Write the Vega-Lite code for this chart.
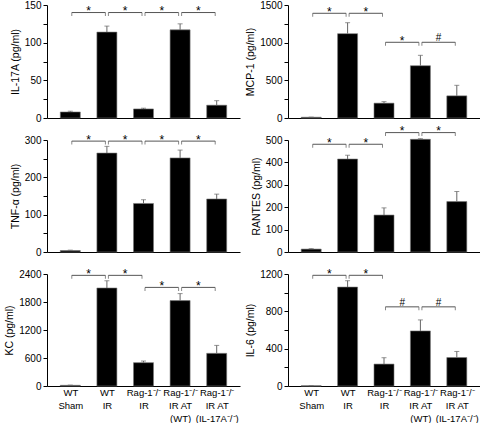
{
  "$schema": "https://vega.github.io/schema/vega-lite/v6.json",
  "padding": {"left": 4, "top": 0, "right": 0, "bottom": 0},
  "background": "white",
  "config": {
    "view": {"stroke": null},
    "axis": {"grid": false, "domainColor": "#000", "tickColor": "#000", "labelColor": "#000", "titleColor": "#000", "labelFont": "Liberation Sans", "titleFont": "Liberation Sans", "labelFontSize": 10, "titleFontSize": 10.5, "titleFontWeight": "normal", "tickSize": 4, "labelPadding": 2, "titlePadding": 4}
  },
  "datasets": {
    "bars": [
      {"panel": "IL17A", "g": 1, "value": 8, "hi": 9},
      {"panel": "IL17A", "g": 2, "value": 114, "hi": 122},
      {"panel": "IL17A", "g": 3, "value": 12, "hi": 13},
      {"panel": "IL17A", "g": 4, "value": 117, "hi": 125},
      {"panel": "IL17A", "g": 5, "value": 17, "hi": 23},
      {"panel": "MCP1", "g": 1, "value": 10, "hi": 12},
      {"panel": "MCP1", "g": 2, "value": 1120, "hi": 1265},
      {"panel": "MCP1", "g": 3, "value": 197, "hi": 217},
      {"panel": "MCP1", "g": 4, "value": 694, "hi": 832},
      {"panel": "MCP1", "g": 5, "value": 294, "hi": 434},
      {"panel": "TNF", "g": 1, "value": 4, "hi": 5},
      {"panel": "TNF", "g": 2, "value": 265, "hi": 283},
      {"panel": "TNF", "g": 3, "value": 130, "hi": 140},
      {"panel": "TNF", "g": 4, "value": 252, "hi": 273},
      {"panel": "TNF", "g": 5, "value": 142, "hi": 155},
      {"panel": "RANTES", "g": 1, "value": 13, "hi": 15},
      {"panel": "RANTES", "g": 2, "value": 415, "hi": 432},
      {"panel": "RANTES", "g": 3, "value": 165, "hi": 197},
      {"panel": "RANTES", "g": 4, "value": 503, "hi": 506},
      {"panel": "RANTES", "g": 5, "value": 225, "hi": 270},
      {"panel": "KC", "g": 1, "value": 15, "hi": 20},
      {"panel": "KC", "g": 2, "value": 2100, "hi": 2255},
      {"panel": "KC", "g": 3, "value": 500, "hi": 535},
      {"panel": "KC", "g": 4, "value": 1830, "hi": 1980},
      {"panel": "KC", "g": 5, "value": 700, "hi": 870},
      {"panel": "IL6", "g": 1, "value": 3, "hi": 3},
      {"panel": "IL6", "g": 2, "value": 1060, "hi": 1128},
      {"panel": "IL6", "g": 3, "value": 235, "hi": 303},
      {"panel": "IL6", "g": 4, "value": 590, "hi": 708},
      {"panel": "IL6", "g": 5, "value": 305, "hi": 370}
    ],
    "brackets": [
      {"panel": "IL17A", "x1": 1, "x2": 2, "xm": 1.5, "y": 140, "label": "*"},
      {"panel": "IL17A", "x1": 2, "x2": 3, "xm": 2.5, "y": 140, "label": "*"},
      {"panel": "IL17A", "x1": 3, "x2": 4, "xm": 3.5, "y": 140, "label": "*"},
      {"panel": "IL17A", "x1": 4, "x2": 5, "xm": 4.5, "y": 140, "label": "*"},
      {"panel": "MCP1", "x1": 1, "x2": 2, "xm": 1.5, "y": 1390, "label": "*"},
      {"panel": "MCP1", "x1": 2, "x2": 3, "xm": 2.5, "y": 1390, "label": "*"},
      {"panel": "MCP1", "x1": 3, "x2": 4, "xm": 3.5, "y": 1005, "label": "*"},
      {"panel": "MCP1", "x1": 4, "x2": 5, "xm": 4.5, "y": 1005, "label": "#"},
      {"panel": "TNF", "x1": 1, "x2": 2, "xm": 1.5, "y": 297, "label": "*"},
      {"panel": "TNF", "x1": 2, "x2": 3, "xm": 2.5, "y": 297, "label": "*"},
      {"panel": "TNF", "x1": 3, "x2": 4, "xm": 3.5, "y": 297, "label": "*"},
      {"panel": "TNF", "x1": 4, "x2": 5, "xm": 4.5, "y": 297, "label": "*"},
      {"panel": "RANTES", "x1": 1, "x2": 2, "xm": 1.5, "y": 481, "label": "*"},
      {"panel": "RANTES", "x1": 2, "x2": 3, "xm": 2.5, "y": 481, "label": "*"},
      {"panel": "RANTES", "x1": 3, "x2": 4, "xm": 3.5, "y": 533, "label": "*"},
      {"panel": "RANTES", "x1": 4, "x2": 5, "xm": 4.5, "y": 533, "label": "*"},
      {"panel": "KC", "x1": 1, "x2": 2, "xm": 1.5, "y": 2371, "label": "*"},
      {"panel": "KC", "x1": 2, "x2": 3, "xm": 2.5, "y": 2371, "label": "*"},
      {"panel": "KC", "x1": 3, "x2": 4, "xm": 3.5, "y": 2113, "label": "*"},
      {"panel": "KC", "x1": 4, "x2": 5, "xm": 4.5, "y": 2113, "label": "*"},
      {"panel": "IL6", "x1": 1, "x2": 2, "xm": 1.5, "y": 1186, "label": "*"},
      {"panel": "IL6", "x1": 2, "x2": 3, "xm": 2.5, "y": 1186, "label": "*"},
      {"panel": "IL6", "x1": 3, "x2": 4, "xm": 3.5, "y": 848, "label": "#"},
      {"panel": "IL6", "x1": 4, "x2": 5, "xm": 4.5, "y": 848, "label": "#"}
    ]
  },
  "columns": 2,
  "spacing": {"row": 22, "column": 48},
  "bounds": "flush",
  "concat": [
    {
      "width": 193, "height": 113,
      "layer": [
        {"data": {"name": "bars"}, "transform": [{"filter": "datum.panel === 'IL17A'"}],
         "mark": {"type": "bar", "size": 20, "color": "#000", "stroke": "#777", "strokeWidth": 0.6},
         "encoding": {
           "x": {"field": "g", "type": "quantitative", "scale": {"domain": [0.5, 5.5], "nice": false, "zero": false}, "axis": {"title": null, "labels": false, "ticks": false, "values": [1, 2, 3, 4, 5]}},
           "y": {"field": "value", "type": "quantitative", "scale": {"domain": [0, 150], "nice": false}, "axis": {"title": "IL-17A (pg/ml)", "labelOverlap": false, "values": [0, 25, 50, 75, 100, 125, 150], "labelExpr": "datum.value % 50 === 0 ? datum.label : ''"}}}},
        {"data": {"name": "bars"}, "transform": [{"filter": "datum.panel === 'IL17A'"}],
         "mark": {"type": "rule", "color": "#666", "strokeWidth": 1},
         "encoding": {"x": {"field": "g", "type": "quantitative"}, "y": {"field": "value", "type": "quantitative", "axis": {"title": "IL-17A (pg/ml)", "labelOverlap": false, "values": [0, 25, 50, 75, 100, 125, 150], "labelExpr": "datum.value % 50 === 0 ? datum.label : ''"}}, "y2": {"field": "hi"}}},
        {"data": {"name": "bars"}, "transform": [{"filter": "datum.panel === 'IL17A'"}],
         "mark": {"type": "tick", "orient": "horizontal", "size": 5, "thickness": 1, "color": "#666"},
         "encoding": {"x": {"field": "g", "type": "quantitative"}, "y": {"field": "hi", "type": "quantitative", "axis": {"title": "IL-17A (pg/ml)", "labelOverlap": false, "values": [0, 25, 50, 75, 100, 125, 150], "labelExpr": "datum.value % 50 === 0 ? datum.label : ''"}}}},
        {"data": {"name": "brackets"}, "transform": [{"filter": "datum.panel === 'IL17A'"}],
         "mark": {"type": "rule", "color": "#555", "strokeWidth": 1, "xOffset": 1.5, "x2Offset": -1.5},
         "encoding": {"x": {"field": "x1", "type": "quantitative"}, "x2": {"field": "x2"}, "y": {"field": "y", "type": "quantitative", "axis": {"title": "IL-17A (pg/ml)", "labelOverlap": false, "values": [0, 25, 50, 75, 100, 125, 150], "labelExpr": "datum.value % 50 === 0 ? datum.label : ''"}}}},
        {"data": {"name": "brackets"}, "transform": [{"filter": "datum.panel === 'IL17A'"}],
         "mark": {"type": "tick", "orient": "vertical", "size": 3.5, "thickness": 1, "color": "#555", "xOffset": 1.5, "yOffset": 1.75},
         "encoding": {"x": {"field": "x1", "type": "quantitative"}, "y": {"field": "y", "type": "quantitative", "axis": {"title": "IL-17A (pg/ml)", "labelOverlap": false, "values": [0, 25, 50, 75, 100, 125, 150], "labelExpr": "datum.value % 50 === 0 ? datum.label : ''"}}}},
        {"data": {"name": "brackets"}, "transform": [{"filter": "datum.panel === 'IL17A'"}],
         "mark": {"type": "tick", "orient": "vertical", "size": 3.5, "thickness": 1, "color": "#555", "xOffset": -1.5, "yOffset": 1.75},
         "encoding": {"x": {"field": "x2", "type": "quantitative"}, "y": {"field": "y", "type": "quantitative", "axis": {"title": "IL-17A (pg/ml)", "labelOverlap": false, "values": [0, 25, 50, 75, 100, 125, 150], "labelExpr": "datum.value % 50 === 0 ? datum.label : ''"}}}},
        {"data": {"name": "brackets"}, "transform": [{"filter": "datum.panel === 'IL17A' && datum.label === '*'"}],
         "mark": {"type": "text", "font": "Liberation Sans", "fontSize": 12, "baseline": "alphabetic", "dy": 2.5, "color": "#000"},
         "encoding": {"x": {"field": "xm", "type": "quantitative"}, "y": {"field": "y", "type": "quantitative", "axis": {"title": "IL-17A (pg/ml)", "labelOverlap": false, "values": [0, 25, 50, 75, 100, 125, 150], "labelExpr": "datum.value % 50 === 0 ? datum.label : ''"}}, "text": {"field": "label"}}}
      ]
    },
    {
      "width": 192, "height": 113,
      "layer": [
        {"data": {"name": "bars"}, "transform": [{"filter": "datum.panel === 'MCP1'"}],
         "mark": {"type": "bar", "size": 20, "color": "#000", "stroke": "#777", "strokeWidth": 0.6},
         "encoding": {
           "x": {"field": "g", "type": "quantitative", "scale": {"domain": [0.5, 5.5], "nice": false, "zero": false}, "axis": {"title": null, "labels": false, "ticks": false, "values": [1, 2, 3, 4, 5]}},
           "y": {"field": "value", "type": "quantitative", "scale": {"domain": [0, 1500], "nice": false}, "axis": {"title": "MCP-1 (pg/ml)", "labelOverlap": false, "format": "d", "values": [0, 250, 500, 750, 1000, 1250, 1500], "labelExpr": "datum.value % 500 === 0 ? datum.label : ''"}}}},
        {"data": {"name": "bars"}, "transform": [{"filter": "datum.panel === 'MCP1'"}],
         "mark": {"type": "rule", "color": "#666", "strokeWidth": 1},
         "encoding": {"x": {"field": "g", "type": "quantitative"}, "y": {"field": "value", "type": "quantitative", "axis": {"title": "MCP-1 (pg/ml)", "labelOverlap": false, "format": "d", "values": [0, 250, 500, 750, 1000, 1250, 1500], "labelExpr": "datum.value % 500 === 0 ? datum.label : ''"}}, "y2": {"field": "hi"}}},
        {"data": {"name": "bars"}, "transform": [{"filter": "datum.panel === 'MCP1'"}],
         "mark": {"type": "tick", "orient": "horizontal", "size": 5, "thickness": 1, "color": "#666"},
         "encoding": {"x": {"field": "g", "type": "quantitative"}, "y": {"field": "hi", "type": "quantitative", "axis": {"title": "MCP-1 (pg/ml)", "labelOverlap": false, "format": "d", "values": [0, 250, 500, 750, 1000, 1250, 1500], "labelExpr": "datum.value % 500 === 0 ? datum.label : ''"}}}},
        {"data": {"name": "brackets"}, "transform": [{"filter": "datum.panel === 'MCP1'"}],
         "mark": {"type": "rule", "color": "#555", "strokeWidth": 1, "xOffset": 1.5, "x2Offset": -1.5},
         "encoding": {"x": {"field": "x1", "type": "quantitative"}, "x2": {"field": "x2"}, "y": {"field": "y", "type": "quantitative", "axis": {"title": "MCP-1 (pg/ml)", "labelOverlap": false, "format": "d", "values": [0, 250, 500, 750, 1000, 1250, 1500], "labelExpr": "datum.value % 500 === 0 ? datum.label : ''"}}}},
        {"data": {"name": "brackets"}, "transform": [{"filter": "datum.panel === 'MCP1'"}],
         "mark": {"type": "tick", "orient": "vertical", "size": 3.5, "thickness": 1, "color": "#555", "xOffset": 1.5, "yOffset": 1.75},
         "encoding": {"x": {"field": "x1", "type": "quantitative"}, "y": {"field": "y", "type": "quantitative", "axis": {"title": "MCP-1 (pg/ml)", "labelOverlap": false, "format": "d", "values": [0, 250, 500, 750, 1000, 1250, 1500], "labelExpr": "datum.value % 500 === 0 ? datum.label : ''"}}}},
        {"data": {"name": "brackets"}, "transform": [{"filter": "datum.panel === 'MCP1'"}],
         "mark": {"type": "tick", "orient": "vertical", "size": 3.5, "thickness": 1, "color": "#555", "xOffset": -1.5, "yOffset": 1.75},
         "encoding": {"x": {"field": "x2", "type": "quantitative"}, "y": {"field": "y", "type": "quantitative", "axis": {"title": "MCP-1 (pg/ml)", "labelOverlap": false, "format": "d", "values": [0, 250, 500, 750, 1000, 1250, 1500], "labelExpr": "datum.value % 500 === 0 ? datum.label : ''"}}}},
        {"data": {"name": "brackets"}, "transform": [{"filter": "datum.panel === 'MCP1' && datum.label === '*'"}],
         "mark": {"type": "text", "font": "Liberation Sans", "fontSize": 12, "baseline": "alphabetic", "dy": 2.5, "color": "#000"},
         "encoding": {"x": {"field": "xm", "type": "quantitative"}, "y": {"field": "y", "type": "quantitative", "axis": {"title": "MCP-1 (pg/ml)", "labelOverlap": false, "format": "d", "values": [0, 250, 500, 750, 1000, 1250, 1500], "labelExpr": "datum.value % 500 === 0 ? datum.label : ''"}}, "text": {"field": "label"}}},
        {"data": {"name": "brackets"}, "transform": [{"filter": "datum.panel === 'MCP1' && datum.label === '#'"}],
         "mark": {"type": "text", "font": "Liberation Sans", "fontSize": 10, "baseline": "alphabetic", "dy": -1, "color": "#000"},
         "encoding": {"x": {"field": "xm", "type": "quantitative"}, "y": {"field": "y", "type": "quantitative", "axis": {"title": "MCP-1 (pg/ml)", "labelOverlap": false, "format": "d", "values": [0, 250, 500, 750, 1000, 1250, 1500], "labelExpr": "datum.value % 500 === 0 ? datum.label : ''"}}, "text": {"field": "label"}}}
      ]
    },
    {
      "width": 193, "height": 112,
      "layer": [
        {"data": {"name": "bars"}, "transform": [{"filter": "datum.panel === 'TNF'"}],
         "mark": {"type": "bar", "size": 20, "color": "#000", "stroke": "#777", "strokeWidth": 0.6},
         "encoding": {
           "x": {"field": "g", "type": "quantitative", "scale": {"domain": [0.5, 5.5], "nice": false, "zero": false}, "axis": {"title": null, "labels": false, "ticks": false, "values": [1, 2, 3, 4, 5]}},
           "y": {"field": "value", "type": "quantitative", "scale": {"domain": [0, 300], "nice": false}, "axis": {"title": "TNF-α (pg/ml)", "labelOverlap": false, "values": [0, 50, 100, 150, 200, 250, 300], "labelExpr": "datum.value % 100 === 0 ? datum.label : ''"}}}},
        {"data": {"name": "bars"}, "transform": [{"filter": "datum.panel === 'TNF'"}],
         "mark": {"type": "rule", "color": "#666", "strokeWidth": 1},
         "encoding": {"x": {"field": "g", "type": "quantitative"}, "y": {"field": "value", "type": "quantitative", "axis": {"title": "TNF-α (pg/ml)", "labelOverlap": false, "values": [0, 50, 100, 150, 200, 250, 300], "labelExpr": "datum.value % 100 === 0 ? datum.label : ''"}}, "y2": {"field": "hi"}}},
        {"data": {"name": "bars"}, "transform": [{"filter": "datum.panel === 'TNF'"}],
         "mark": {"type": "tick", "orient": "horizontal", "size": 5, "thickness": 1, "color": "#666"},
         "encoding": {"x": {"field": "g", "type": "quantitative"}, "y": {"field": "hi", "type": "quantitative", "axis": {"title": "TNF-α (pg/ml)", "labelOverlap": false, "values": [0, 50, 100, 150, 200, 250, 300], "labelExpr": "datum.value % 100 === 0 ? datum.label : ''"}}}},
        {"data": {"name": "brackets"}, "transform": [{"filter": "datum.panel === 'TNF'"}],
         "mark": {"type": "rule", "color": "#555", "strokeWidth": 1, "xOffset": 1.5, "x2Offset": -1.5},
         "encoding": {"x": {"field": "x1", "type": "quantitative"}, "x2": {"field": "x2"}, "y": {"field": "y", "type": "quantitative", "axis": {"title": "TNF-α (pg/ml)", "labelOverlap": false, "values": [0, 50, 100, 150, 200, 250, 300], "labelExpr": "datum.value % 100 === 0 ? datum.label : ''"}}}},
        {"data": {"name": "brackets"}, "transform": [{"filter": "datum.panel === 'TNF'"}],
         "mark": {"type": "tick", "orient": "vertical", "size": 3.5, "thickness": 1, "color": "#555", "xOffset": 1.5, "yOffset": 1.75},
         "encoding": {"x": {"field": "x1", "type": "quantitative"}, "y": {"field": "y", "type": "quantitative", "axis": {"title": "TNF-α (pg/ml)", "labelOverlap": false, "values": [0, 50, 100, 150, 200, 250, 300], "labelExpr": "datum.value % 100 === 0 ? datum.label : ''"}}}},
        {"data": {"name": "brackets"}, "transform": [{"filter": "datum.panel === 'TNF'"}],
         "mark": {"type": "tick", "orient": "vertical", "size": 3.5, "thickness": 1, "color": "#555", "xOffset": -1.5, "yOffset": 1.75},
         "encoding": {"x": {"field": "x2", "type": "quantitative"}, "y": {"field": "y", "type": "quantitative", "axis": {"title": "TNF-α (pg/ml)", "labelOverlap": false, "values": [0, 50, 100, 150, 200, 250, 300], "labelExpr": "datum.value % 100 === 0 ? datum.label : ''"}}}},
        {"data": {"name": "brackets"}, "transform": [{"filter": "datum.panel === 'TNF' && datum.label === '*'"}],
         "mark": {"type": "text", "font": "Liberation Sans", "fontSize": 12, "baseline": "alphabetic", "dy": 2.5, "color": "#000"},
         "encoding": {"x": {"field": "xm", "type": "quantitative"}, "y": {"field": "y", "type": "quantitative", "axis": {"title": "TNF-α (pg/ml)", "labelOverlap": false, "values": [0, 50, 100, 150, 200, 250, 300], "labelExpr": "datum.value % 100 === 0 ? datum.label : ''"}}, "text": {"field": "label"}}}
      ]
    },
    {
      "width": 192, "height": 112,
      "layer": [
        {"data": {"name": "bars"}, "transform": [{"filter": "datum.panel === 'RANTES'"}],
         "mark": {"type": "bar", "size": 20, "color": "#000", "stroke": "#777", "strokeWidth": 0.6},
         "encoding": {
           "x": {"field": "g", "type": "quantitative", "scale": {"domain": [0.5, 5.5], "nice": false, "zero": false}, "axis": {"title": null, "labels": false, "ticks": false, "values": [1, 2, 3, 4, 5]}},
           "y": {"field": "value", "type": "quantitative", "scale": {"domain": [0, 500], "nice": false}, "axis": {"title": "RANTES (pg/ml)", "labelOverlap": false, "values": [0, 100, 200, 300, 400, 500]}}}},
        {"data": {"name": "bars"}, "transform": [{"filter": "datum.panel === 'RANTES'"}],
         "mark": {"type": "rule", "color": "#666", "strokeWidth": 1},
         "encoding": {"x": {"field": "g", "type": "quantitative"}, "y": {"field": "value", "type": "quantitative", "axis": {"title": "RANTES (pg/ml)", "labelOverlap": false, "values": [0, 100, 200, 300, 400, 500]}}, "y2": {"field": "hi"}}},
        {"data": {"name": "bars"}, "transform": [{"filter": "datum.panel === 'RANTES'"}],
         "mark": {"type": "tick", "orient": "horizontal", "size": 5, "thickness": 1, "color": "#666"},
         "encoding": {"x": {"field": "g", "type": "quantitative"}, "y": {"field": "hi", "type": "quantitative", "axis": {"title": "RANTES (pg/ml)", "labelOverlap": false, "values": [0, 100, 200, 300, 400, 500]}}}},
        {"data": {"name": "brackets"}, "transform": [{"filter": "datum.panel === 'RANTES'"}],
         "mark": {"type": "rule", "color": "#555", "strokeWidth": 1, "xOffset": 1.5, "x2Offset": -1.5},
         "encoding": {"x": {"field": "x1", "type": "quantitative"}, "x2": {"field": "x2"}, "y": {"field": "y", "type": "quantitative", "axis": {"title": "RANTES (pg/ml)", "labelOverlap": false, "values": [0, 100, 200, 300, 400, 500]}}}},
        {"data": {"name": "brackets"}, "transform": [{"filter": "datum.panel === 'RANTES'"}],
         "mark": {"type": "tick", "orient": "vertical", "size": 3.5, "thickness": 1, "color": "#555", "xOffset": 1.5, "yOffset": 1.75},
         "encoding": {"x": {"field": "x1", "type": "quantitative"}, "y": {"field": "y", "type": "quantitative", "axis": {"title": "RANTES (pg/ml)", "labelOverlap": false, "values": [0, 100, 200, 300, 400, 500]}}}},
        {"data": {"name": "brackets"}, "transform": [{"filter": "datum.panel === 'RANTES'"}],
         "mark": {"type": "tick", "orient": "vertical", "size": 3.5, "thickness": 1, "color": "#555", "xOffset": -1.5, "yOffset": 1.75},
         "encoding": {"x": {"field": "x2", "type": "quantitative"}, "y": {"field": "y", "type": "quantitative", "axis": {"title": "RANTES (pg/ml)", "labelOverlap": false, "values": [0, 100, 200, 300, 400, 500]}}}},
        {"data": {"name": "brackets"}, "transform": [{"filter": "datum.panel === 'RANTES' && datum.label === '*'"}],
         "mark": {"type": "text", "font": "Liberation Sans", "fontSize": 12, "baseline": "alphabetic", "dy": 2.5, "color": "#000"},
         "encoding": {"x": {"field": "xm", "type": "quantitative"}, "y": {"field": "y", "type": "quantitative", "axis": {"title": "RANTES (pg/ml)", "labelOverlap": false, "values": [0, 100, 200, 300, 400, 500]}}, "text": {"field": "label"}}}
      ]
    },
    {
      "width": 193, "height": 112,
      "layer": [
        {"data": {"name": "bars"}, "transform": [{"filter": "datum.panel === 'KC'"}],
         "mark": {"type": "bar", "size": 20, "color": "#000", "stroke": "#777", "strokeWidth": 0.6},
         "encoding": {
           "x": {"field": "g", "type": "quantitative", "scale": {"domain": [0.5, 5.5], "nice": false, "zero": false}, "axis": {"title": null, "ticks": false, "values": [1, 2, 3, 4, 5], "labelOverlap": false, "labelFlush": false, "labelFontSize": 9.5, "labelLineHeight": 13, "labelPadding": 1, "labelBaseline": "top", "labelExpr": "datum.value == 1 ? ['WT', 'Sham'] : datum.value == 2 ? ['WT', 'IR'] : datum.value == 3 ? ['Rag-1⁻/⁻', 'IR'] : datum.value == 4 ? ['Rag-1⁻/⁻', 'IR  AT', '(WT)'] : ['Rag-1⁻/⁻', 'IR  AT', '(IL-17A⁻/⁻)']"}},
           "y": {"field": "value", "type": "quantitative", "scale": {"domain": [0, 2400], "nice": false}, "axis": {"title": "KC (pg/ml)", "labelOverlap": false, "format": "d", "values": [0, 600, 1200, 1800, 2400]}}}},
        {"data": {"name": "bars"}, "transform": [{"filter": "datum.panel === 'KC'"}],
         "mark": {"type": "rule", "color": "#666", "strokeWidth": 1},
         "encoding": {"x": {"field": "g", "type": "quantitative"}, "y": {"field": "value", "type": "quantitative", "axis": {"title": "KC (pg/ml)", "labelOverlap": false, "format": "d", "values": [0, 600, 1200, 1800, 2400]}}, "y2": {"field": "hi"}}},
        {"data": {"name": "bars"}, "transform": [{"filter": "datum.panel === 'KC'"}],
         "mark": {"type": "tick", "orient": "horizontal", "size": 5, "thickness": 1, "color": "#666"},
         "encoding": {"x": {"field": "g", "type": "quantitative"}, "y": {"field": "hi", "type": "quantitative", "axis": {"title": "KC (pg/ml)", "labelOverlap": false, "format": "d", "values": [0, 600, 1200, 1800, 2400]}}}},
        {"data": {"name": "brackets"}, "transform": [{"filter": "datum.panel === 'KC'"}],
         "mark": {"type": "rule", "color": "#555", "strokeWidth": 1, "xOffset": 1.5, "x2Offset": -1.5},
         "encoding": {"x": {"field": "x1", "type": "quantitative"}, "x2": {"field": "x2"}, "y": {"field": "y", "type": "quantitative", "axis": {"title": "KC (pg/ml)", "labelOverlap": false, "format": "d", "values": [0, 600, 1200, 1800, 2400]}}}},
        {"data": {"name": "brackets"}, "transform": [{"filter": "datum.panel === 'KC'"}],
         "mark": {"type": "tick", "orient": "vertical", "size": 3.5, "thickness": 1, "color": "#555", "xOffset": 1.5, "yOffset": 1.75},
         "encoding": {"x": {"field": "x1", "type": "quantitative"}, "y": {"field": "y", "type": "quantitative", "axis": {"title": "KC (pg/ml)", "labelOverlap": false, "format": "d", "values": [0, 600, 1200, 1800, 2400]}}}},
        {"data": {"name": "brackets"}, "transform": [{"filter": "datum.panel === 'KC'"}],
         "mark": {"type": "tick", "orient": "vertical", "size": 3.5, "thickness": 1, "color": "#555", "xOffset": -1.5, "yOffset": 1.75},
         "encoding": {"x": {"field": "x2", "type": "quantitative"}, "y": {"field": "y", "type": "quantitative", "axis": {"title": "KC (pg/ml)", "labelOverlap": false, "format": "d", "values": [0, 600, 1200, 1800, 2400]}}}},
        {"data": {"name": "brackets"}, "transform": [{"filter": "datum.panel === 'KC' && datum.label === '*'"}],
         "mark": {"type": "text", "font": "Liberation Sans", "fontSize": 12, "baseline": "alphabetic", "dy": 2.5, "color": "#000"},
         "encoding": {"x": {"field": "xm", "type": "quantitative"}, "y": {"field": "y", "type": "quantitative", "axis": {"title": "KC (pg/ml)", "labelOverlap": false, "format": "d", "values": [0, 600, 1200, 1800, 2400]}}, "text": {"field": "label"}}}
      ]
    },
    {
      "width": 192, "height": 112,
      "layer": [
        {"data": {"name": "bars"}, "transform": [{"filter": "datum.panel === 'IL6'"}],
         "mark": {"type": "bar", "size": 20, "color": "#000", "stroke": "#777", "strokeWidth": 0.6},
         "encoding": {
           "x": {"field": "g", "type": "quantitative", "scale": {"domain": [0.5, 5.5], "nice": false, "zero": false}, "axis": {"title": null, "ticks": false, "values": [1, 2, 3, 4, 5], "labelOverlap": false, "labelFlush": false, "labelFontSize": 9.5, "labelLineHeight": 13, "labelPadding": 1, "labelBaseline": "top", "labelExpr": "datum.value == 1 ? ['WT', 'Sham'] : datum.value == 2 ? ['WT', 'IR'] : datum.value == 3 ? ['Rag-1⁻/⁻', 'IR'] : datum.value == 4 ? ['Rag-1⁻/⁻', 'IR  AT', '(WT)'] : ['Rag-1⁻/⁻', 'IR  AT', '(IL-17A⁻/⁻)']"}},
           "y": {"field": "value", "type": "quantitative", "scale": {"domain": [0, 1200], "nice": false}, "axis": {"title": "IL-6 (pg/ml)", "labelOverlap": false, "format": "d", "values": [0, 200, 400, 600, 800, 1000, 1200], "labelExpr": "datum.value % 400 === 0 ? datum.label : ''"}}}},
        {"data": {"name": "bars"}, "transform": [{"filter": "datum.panel === 'IL6'"}],
         "mark": {"type": "rule", "color": "#666", "strokeWidth": 1},
         "encoding": {"x": {"field": "g", "type": "quantitative"}, "y": {"field": "value", "type": "quantitative", "axis": {"title": "IL-6 (pg/ml)", "labelOverlap": false, "format": "d", "values": [0, 200, 400, 600, 800, 1000, 1200], "labelExpr": "datum.value % 400 === 0 ? datum.label : ''"}}, "y2": {"field": "hi"}}},
        {"data": {"name": "bars"}, "transform": [{"filter": "datum.panel === 'IL6'"}],
         "mark": {"type": "tick", "orient": "horizontal", "size": 5, "thickness": 1, "color": "#666"},
         "encoding": {"x": {"field": "g", "type": "quantitative"}, "y": {"field": "hi", "type": "quantitative", "axis": {"title": "IL-6 (pg/ml)", "labelOverlap": false, "format": "d", "values": [0, 200, 400, 600, 800, 1000, 1200], "labelExpr": "datum.value % 400 === 0 ? datum.label : ''"}}}},
        {"data": {"name": "brackets"}, "transform": [{"filter": "datum.panel === 'IL6'"}],
         "mark": {"type": "rule", "color": "#555", "strokeWidth": 1, "xOffset": 1.5, "x2Offset": -1.5},
         "encoding": {"x": {"field": "x1", "type": "quantitative"}, "x2": {"field": "x2"}, "y": {"field": "y", "type": "quantitative", "axis": {"title": "IL-6 (pg/ml)", "labelOverlap": false, "format": "d", "values": [0, 200, 400, 600, 800, 1000, 1200], "labelExpr": "datum.value % 400 === 0 ? datum.label : ''"}}}},
        {"data": {"name": "brackets"}, "transform": [{"filter": "datum.panel === 'IL6'"}],
         "mark": {"type": "tick", "orient": "vertical", "size": 3.5, "thickness": 1, "color": "#555", "xOffset": 1.5, "yOffset": 1.75},
         "encoding": {"x": {"field": "x1", "type": "quantitative"}, "y": {"field": "y", "type": "quantitative", "axis": {"title": "IL-6 (pg/ml)", "labelOverlap": false, "format": "d", "values": [0, 200, 400, 600, 800, 1000, 1200], "labelExpr": "datum.value % 400 === 0 ? datum.label : ''"}}}},
        {"data": {"name": "brackets"}, "transform": [{"filter": "datum.panel === 'IL6'"}],
         "mark": {"type": "tick", "orient": "vertical", "size": 3.5, "thickness": 1, "color": "#555", "xOffset": -1.5, "yOffset": 1.75},
         "encoding": {"x": {"field": "x2", "type": "quantitative"}, "y": {"field": "y", "type": "quantitative", "axis": {"title": "IL-6 (pg/ml)", "labelOverlap": false, "format": "d", "values": [0, 200, 400, 600, 800, 1000, 1200], "labelExpr": "datum.value % 400 === 0 ? datum.label : ''"}}}},
        {"data": {"name": "brackets"}, "transform": [{"filter": "datum.panel === 'IL6' && datum.label === '*'"}],
         "mark": {"type": "text", "font": "Liberation Sans", "fontSize": 12, "baseline": "alphabetic", "dy": 2.5, "color": "#000"},
         "encoding": {"x": {"field": "xm", "type": "quantitative"}, "y": {"field": "y", "type": "quantitative", "axis": {"title": "IL-6 (pg/ml)", "labelOverlap": false, "format": "d", "values": [0, 200, 400, 600, 800, 1000, 1200], "labelExpr": "datum.value % 400 === 0 ? datum.label : ''"}}, "text": {"field": "label"}}},
        {"data": {"name": "brackets"}, "transform": [{"filter": "datum.panel === 'IL6' && datum.label === '#'"}],
         "mark": {"type": "text", "font": "Liberation Sans", "fontSize": 10, "baseline": "alphabetic", "dy": -1, "color": "#000"},
         "encoding": {"x": {"field": "xm", "type": "quantitative"}, "y": {"field": "y", "type": "quantitative", "axis": {"title": "IL-6 (pg/ml)", "labelOverlap": false, "format": "d", "values": [0, 200, 400, 600, 800, 1000, 1200], "labelExpr": "datum.value % 400 === 0 ? datum.label : ''"}}, "text": {"field": "label"}}}
      ]
    }
  ]
}
